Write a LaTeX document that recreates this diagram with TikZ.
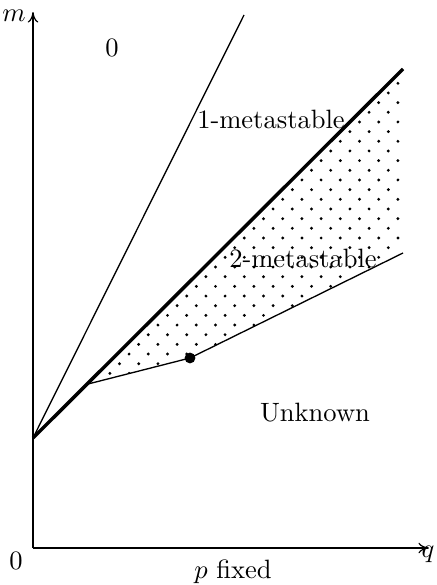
\documentclass[tikz,border=0pt]{standalone}
\usetikzlibrary{arrows.meta}
\begin{document}
\begin{tikzpicture}[x=0.377pt,y=-0.377pt,
  axis/.style={line width=0.45pt,-{To[length=4pt,width=4pt]}},
  thinline/.style={line width=0.5pt},
  thickline/.style={line width=1.3pt},
  lbl/.style={inner sep=0pt,font=\fontsize{10}{12}\selectfont}]
\useasboundingbox (0,0) rectangle (437,585);
\coordinate (O) at (33,548);
\coordinate (ytip) at (33,12);
\coordinate (xtip) at (429,548);
\coordinate (A) at (33,438);
\coordinate (T) at (244,15);
\coordinate (K) at (403,69);
\coordinate (B) at (88,384);
\coordinate (C) at (190,358);
\coordinate (D) at (403,253);
% dotted region
\begin{scope}
  \clip (B) -- (C) -- (D) -- (K) -- cycle;
  \foreach \j in {-28,...,6}{
    \pgfmathsetmacro{\yy}{334.7+9.67*\j}
    \pgfmathsetmacro{\off}{mod(abs(\j),2)*9.6}
    \foreach \i in {-4,...,14}{
      \fill ({148.3+19.2*\i+\off},\yy) circle[radius=1.6];
    }
  }
\end{scope}
\draw[axis] (O) -- (ytip);
\draw[axis] (O) -- (xtip);
\draw[thinline] (A) -- (T);
\draw[thickline] (A) -- (K);
\draw[thinline] (B) -- (C) -- (D);
\fill (C) circle[radius=5.4];
\node[lbl] (m) at (14,16) {$m$};
\node[lbl] (q) at (428,554) {$q$};
\node[lbl] (zero) at (16,561) {0};
\node[lbl] (pf) at (233,572) {$p$ fixed};
\node[lbl] (z) at (112,48) {0};
\node[lbl] (one) at (271,119) {1-metastable};
\node[lbl] (two) at (303,258) {2-metastable};
\node[lbl] (unk) at (315,413) {Unknown};
\end{tikzpicture}
\end{document}
